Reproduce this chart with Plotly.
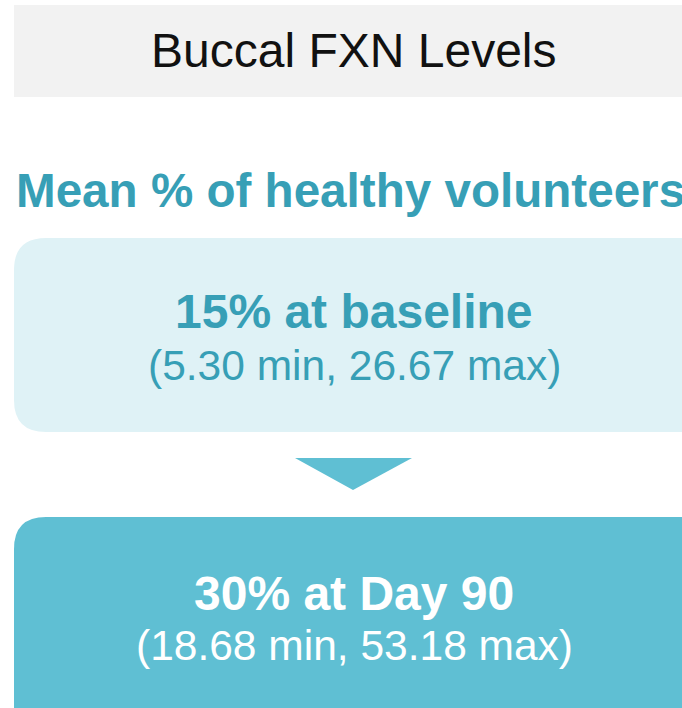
import plotly.graph_objects as go

title = "Buccal FXN Levels"
subtitle = "Mean % of healthy volunteers"
timepoints = ["baseline", "Day 90"]
means = [15, 30]
mins = [5.30, 18.68]
maxs = [26.67, 53.18]

W, H = 682, 708
teal = "#379fb6"
light = "#dff2f6"
mid = "#5fbfd3"
font = "Liberation Sans, Arial, sans-serif"


def rounded(x0, y0, x1, y1, r):
    return (f"M {x0+r},{y0} L {x1-r},{y0} Q {x1},{y0} {x1},{y0+r} "
            f"L {x1},{y1-r} Q {x1},{y1} {x1-r},{y1} L {x0+r},{y1} "
            f"Q {x0},{y1} {x0},{y1-r} L {x0},{y0+r} Q {x0},{y0} {x0+r},{y0} Z")


fig = go.Figure()

shapes = [
    dict(type="rect", x0=14, x1=W + 40, y0=5, y1=97, fillcolor="#f2f2f2", line_width=0),
    dict(type="path", path=rounded(14, 238, 740, 432, 32), fillcolor=light, line_width=0),
    dict(type="path", path="M 295,458 L 412,458 L 353,490 Z", fillcolor=mid, line_width=0),
    dict(type="path", path=rounded(14, 517, 740, 760, 32), fillcolor=mid, line_width=0),
]

annotations = [
    dict(x=354, y=50, text=title, font=dict(size=48, color="#111111", family=font)),
    dict(x=14, y=190, text="<b>" + subtitle + "</b>", xanchor="left",
         font=dict(size=47.6, color=teal, family=font)),
]

box_centers = [311, 593]
sub_centers = [365, 645]
colors = [teal, "white"]
for i in range(len(means)):
    annotations.append(dict(x=354, y=box_centers[i],
                            text=f"<b>{means[i]}% at {timepoints[i]}</b>",
                            font=dict(size=48, color=colors[i], family=font)))
    annotations.append(dict(x=354, y=sub_centers[i],
                            text=f"({mins[i]:.2f} min, {maxs[i]:.2f} max)",
                            font=dict(size=42.5, color=colors[i], family=font)))

for a in annotations:
    a.update(xref="x", yref="y", showarrow=False)
    a.setdefault("xanchor", "center")
    a["yanchor"] = "middle"

fig.update_layout(
    width=W, height=H,
    margin=dict(l=0, r=0, t=0, b=0),
    paper_bgcolor="white", plot_bgcolor="white",
    shapes=shapes, annotations=annotations,
    xaxis=dict(range=[0, W], visible=False, fixedrange=True),
    yaxis=dict(range=[H, 0], visible=False, fixedrange=True),
    showlegend=False,
)

fig.write_html("out.html", config={"displayModeBar": False},
               post_script="document.body.style.margin='0';document.body.style.overflow='hidden';")
